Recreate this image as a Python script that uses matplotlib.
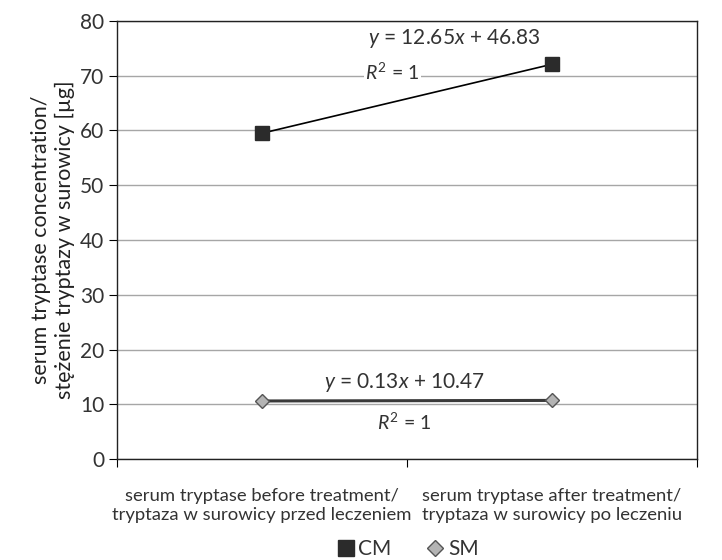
import matplotlib
matplotlib.use('Agg')
import matplotlib.pyplot as plt
from matplotlib.lines import Line2D

plt.rcParams['font.family'] = ['Lato', 'DejaVu Sans']
plt.rcParams['mathtext.fontset'] = 'custom'
plt.rcParams['mathtext.rm'] = 'Lato'
plt.rcParams['mathtext.it'] = 'Lato:italic'

categories = ['serum tryptase before treatment/\ntryptaza w surowicy przed leczeniem',
              'serum tryptase after treatment/\ntryptaza w surowicy po leczeniu']
cm_values = [59.5, 72.1]
sm_values = [10.6, 10.7]
cm_eq = '$y$ = 12.65$x$ + 46.83'
sm_eq = '$y$ = 0.13$x$ + 10.47'
r2_text = '$R^2$ = 1'

xpos = [0.5, 1.5]
txt = '#333333'

fig = plt.figure(figsize=(7.22, 5.6), dpi=100)
ax = fig.add_axes([117/722, 1-459/560, 580/722, 438/560])

ax.plot(xpos, cm_values, color='black', lw=1.2, marker='s', ms=10,
        markerfacecolor='#2b2b2b', markeredgecolor='#2b2b2b', zorder=3)
ax.plot(xpos, sm_values, color='#3a3a3a', lw=2.2, marker='D', ms=7,
        markerfacecolor='#b4b4b4', markeredgecolor='#555555', zorder=3)

ax.set_xlim(0, 2)
ax.set_ylim(0, 80)
ax.set_yticks(range(0, 81, 10))
ax.set_xticks([0, 1, 2])
ax.set_xticklabels([])
ax.set_xticks(xpos, minor=True)
ax.set_xticklabels(categories, minor=True, fontsize=13.3, color=txt, linespacing=1.2)
ax.tick_params(axis='x', which='minor', length=0, pad=21)
ax.tick_params(axis='x', which='major', length=6, direction='out')
ax.tick_params(axis='y', length=6, direction='out', labelsize=15, labelcolor=txt, pad=3)
ax.yaxis.grid(True, color='#a6a6a6', lw=1)
ax.set_axisbelow(True)
for s in ax.spines.values():
    s.set_color('#222222')
    s.set_linewidth(1)

ax.set_ylabel('serum tryptase concentration/\nstężenie tryptazy w surowicy [µg]',
              fontsize=15.5, color='#222222', labelpad=4, linespacing=1.2)

ax.text(1.165, 76.8, cm_eq, fontsize=15, color=txt, ha='center', va='center')
ax.text(0.95, 70.6, r2_text, fontsize=14, color=txt, ha='center', va='center',
        bbox=dict(facecolor='white', edgecolor='none', pad=1))
ax.text(0.99, 14.0, sm_eq, fontsize=15, color=txt, ha='center', va='center')
ax.text(0.99, 6.8, r2_text, fontsize=14, color=txt, ha='center', va='center')

handles = [Line2D([], [], ls='none', marker='s', ms=11, color='#2b2b2b'),
           Line2D([], [], ls='none', marker='D', ms=8, markerfacecolor='#b4b4b4',
                  markeredgecolor='#555555')]
fig.legend(handles, ['CM', 'SM'], loc='center', bbox_to_anchor=(407/722, 1-549/560),
           ncol=2, frameon=False, fontsize=15, handletextpad=0.1, handlelength=1.0,
           columnspacing=1.6, labelcolor=txt)

fig.savefig('out.png', dpi=100)
